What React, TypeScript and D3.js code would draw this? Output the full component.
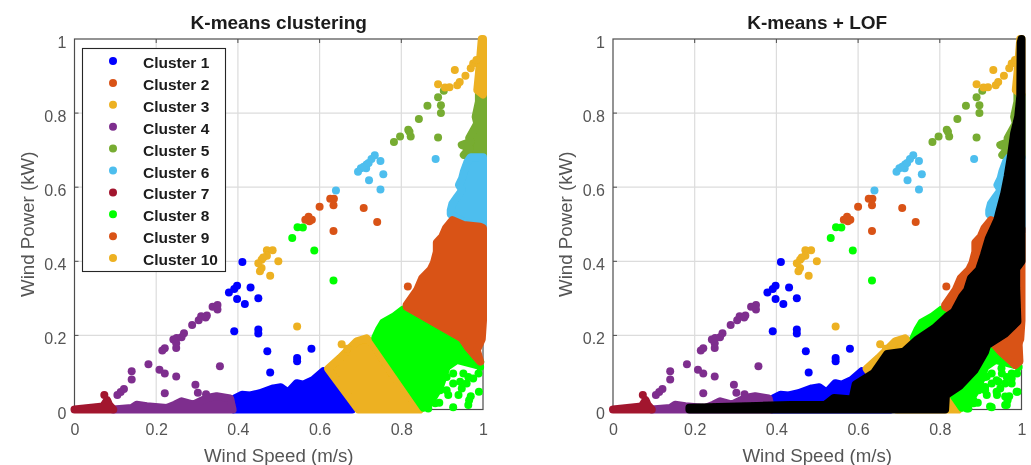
import React from "react";
import * as d3 from "d3";

type Pt = [number, number];

const tickValues = [0, 0.2, 0.4, 0.6, 0.8, 1];
const clusterNames = ["Cluster 1", "Cluster 2", "Cluster 3", "Cluster 4", "Cluster 5", "Cluster 6", "Cluster 7", "Cluster 8", "Cluster 9", "Cluster 10"];
const clusterColors = ["#0000ff", "#d95319", "#edb120", "#7e2f8e", "#77ac30", "#4dbeee", "#a2142f", "#00ff00", "#d95319", "#edb120"];

// isolated points, [speed, power]
const cluster1: Pt[] = [[.411, .398], [.378, .316], [.391, .325], [.398, .334], [.398, .298], [.417, .285], [.431, .329], [.45, .3], [.391, .211], [.45, .216], [.45, .205], [.472, .157], [.545, .139], [.545, .13], [.58, .164], [.479, .1]];
const cluster2: Pt[] = [[.634, .482], [.741, .506], [.708, .544], [.6, .547], [.634, .551], [.635, .569], [.626, .569], [.573, .52], [.565, .512], [.581, .512], [.575, .508], [.816, .332]];
const cluster3: Pt[] = [[.654, .176], [.668, .164], [.545, .224], [.479, .361], [.499, .4], [.458, .404], [.458, .382], [.471, .43], [.485, .43], [.471, .415], [.45, .395], [.454, .373], [.462, .41]];
const cluster4: Pt[] = [[.105, .039], [.113, .047], [.121, .055], [.14, .103], [.14, .081], [.181, .122], [.208, .107], [.221, .097], [.249, .089], [.221, .044], [.296, .067], [.302, .045], [.322, .041], [.356, .117], [.215, .159], [.221, .165], [.242, .189], [.25, .193], [.262, .195], [.268, .206], [.249, .166], [.249, .179], [.288, .228], [.304, .241], [.31, .252], [.324, .254], [.321, .248], [.338, .277], [.35, .282], [.35, .27]];
const cluster5: Pt[] = [[.904, .86], [.89, .843], [.864, .82], [.897, .821], [.897, .8], [.843, .784], [.817, .755], [.823, .737], [.797, .737], [.782, .722], [.89, .734], [.82, .75]];
const cluster6: Pt[] = [[.884, .676], [.749, .671], [.735, .686], [.727, .676], [.715, .661], [.701, .651], [.694, .642], [.714, .651], [.756, .635], [.721, .619], [.749, .594], [.64, .591], [.708, .655], [.72, .665]];
const cluster7: Pt[] = [[.073, .039]];
const cluster8: Pt[] = [[.546, .492], [.559, .491], [.533, .463], [.587, .429], [.634, .348], [.866, .003], [.883, .017], [.893, .018], [.927, .006], [.964, .012], [.966, .025], [.97, .036], [.99, .048], [.94, .039], [.915, .039], [.911, .052], [.948, .057], [.96, .07], [.976, .084], [.927, .07], [.944, .075], [.895, .052], [.989, .097], [.993, .115], [.964, .088], [.927, .097], [.911, .088], [.952, .097], [.903, .106]];
const cluster10: Pt[] = [[.931, .916], [.89, .878], [.907, .869], [.918, .87], [.937, .875], [.943, .884], [.957, .901], [.97, .921], [.976, .934], [.984, .943]];

// extra green dots that only show in the right panel
const lofGreen: Pt[] = [[.931, .133], [.951, .111], [.915, .089], [.939, .079], [.976, .097], [.988, .048], [.96, .035], [.923, .008], [.96, .012], [.87, .003], [.898, .07], [.911, .061], [.939, .048], [.976, .07], [.858, .043], [.882, .025], [.902, .084]];

// outlines of the solid areas: where dots overlap too much to read one by one
const body1: Pt[] = [[.39, 0], [.393, .03], [.41, .04], [.43, .038], [.454, .044], [.487, .057], [.505, .06], [.523, .046], [.544, .071], [.56, .067], [.585, .08], [.609, .103], [.68, 0]];
const body3: Pt[] = [[.621, .11], [.65, .139], [.691, .184], [.715, .192], [.732, .175], [.781, .09], [.846, 0], [.695, 0]];
const body4: Pt[] = [[.095, 0], [.14, .004], [.152, .013], [.177, .009], [.226, .004], [.246, .013], [.262, .022], [.291, .013], [.324, .031], [.348, .036], [.381, .03], [.387, 0]];
const body5: Pt[] = [[.99, .858], [.99, .831], [.982, .79], [.986, .772], [.966, .732], [.97, .723], [.948, .714], [.968, .705], [.953, .687], [1, .68], [1, .85]];
const body6: Pt[] = [[1, .681], [.97, .681], [.962, .669], [.953, .642], [.949, .624], [.941, .606], [.949, .592], [.937, .574], [.925, .555], [.921, .538], [.921, .527], [.96, .5], [1, .48]];
const body7: Pt[] = [[0, 0], [.095, 0], [.085, .012], [.08, .025], [.07, .008]];
const body8: Pt[] = [[.736, .193], [.745, .215], [.756, .235], [.781, .25], [.805, .27], [.948, .192], [.993, .129], [.985, .12], [.936, .134], [.911, .115], [.895, .062], [.87, .017], [.854, .005]];
const body9: Pt[] = [[.925, .511], [.952, .498], [.993, .493], [1, .49], [1, .24], [.997, .19], [.985, .16], [.993, .129], [.962, .169], [.948, .192], [.813, .277], [.813, .282], [.839, .323], [.851, .354], [.872, .378], [.88, .396], [.887, .426], [.887, .451], [.9, .466], [.909, .489]];
const body10: Pt[] = [[1, 1], [.997, 1], [.99, .907], [.986, .862], [1, .85]];
const lofOrange: Pt[] = [[.93, .18], [.99, .24], [.995, .13], [.985, .12], [.95, .155]];
const lofBody: Pt[] = [[1, 1], [.998, .99], [.997, .845], [.992, .791], [.982, .746], [.974, .683], [.966, .629], [.958, .584], [.945, .53], [.941, .512], [.92, .462], [.908, .417], [.896, .377], [.876, .354], [.867, .322], [.855, .305], [.835, .264], [.817, .25], [.786, .219], [.745, .189], [.712, .156], [.671, .15], [.639, .099], [.594, .068], [.586, .027], [.541, .031], [.52, .013], [.434, .012], [.187, .005], [.187, 0], [.813, 0], [.815, .039], [.848, .063], [.885, .106], [.911, .156], [.916, .174], [.96, .205], [.99, .237], [.987, .33], [.987, .38], [1, .4]];

const clusterPoints = [cluster1, cluster2, cluster3, cluster4, cluster5, cluster6, cluster7, cluster8, [] as Pt[], cluster10];
const clusterBodies = [body1, null, body3, body4, body5, body6, body7, body8, body9, body10];

const R = 4;
const plotTop = 39;
const plotBottom = 409.5;
const plotWidth = 408.5;
const ink = "#262626";
const gray = "#4d4d4d";
const font = "'Liberation Sans', Arial, sans-serif";

const Dots = ({pts, color, x, y}: {pts: Pt[], color: string, x: any, y: any}) => (
    <g fill={color}>
        {pts.map((p, i) => <circle key={i} cx={x(p[0])} cy={y(p[1])} r={R} />)}
    </g>
);

const Body = ({pts, color, line}: {pts: Pt[], color: string, line: any}) => (
    <path d={line(pts)} fill={color} stroke={color} strokeWidth={R * 2} strokeLinejoin="round" />
);

const Panel = ({left, title, lof}: {left: number, title: string, lof: boolean}) => {
    const x = d3.scaleLinear().domain([0, 1]).range([left, left + plotWidth]);
    const y = d3.scaleLinear().domain([0, 1]).range([plotBottom, plotTop]);
    const line = d3.line<Pt>().x(d => x(d[0])).y(d => y(d[1])).curve(d3.curveLinearClosed);

    return (
        <g fontFamily={font}>
            <text x={x(0.5)} y={29} textAnchor="middle" fontSize={19} fontWeight="bold" fill="#1a1a1a">{title}</text>

            {/* grid */}
            <g stroke="#dcdcdc" strokeWidth={1.2}>
                {tickValues.slice(1, -1).map(t => <line key={t} x1={x(t)} x2={x(t)} y1={plotTop} y2={plotBottom} />)}
                {tickValues.slice(1, -1).map(t => <line key={t} x1={left} x2={x(1)} y1={y(t)} y2={y(t)} />)}
            </g>

            {/* frame and ticks */}
            <rect x={left} y={plotTop} width={plotWidth} height={plotBottom - plotTop} fill="none" stroke={gray} strokeWidth={1.2} />
            <g stroke={gray} strokeWidth={1}>
                {tickValues.slice(1, -1).map(t => <line key={t} x1={x(t)} x2={x(t)} y1={plotTop} y2={plotTop + 4} />)}
                {tickValues.slice(1, -1).map(t => <line key={t} x1={left} x2={left + 4} y1={y(t)} y2={y(t)} />)}
            </g>

            {/* clusters, in legend order */}
            {clusterNames.map((name, i) => (
                <g key={name}>
                    {clusterBodies[i] && <Body pts={clusterBodies[i] as Pt[]} color={clusterColors[i]} line={line} />}
                    <Dots pts={clusterPoints[i]} color={clusterColors[i]} x={x} y={y} />
                </g>
            ))}
            {lof && <Dots pts={lofGreen} color={clusterColors[7]} x={x} y={y} />}
            {lof && <Body pts={lofOrange} color={clusterColors[8]} line={line} />}
            {lof && <Body pts={lofBody} color="#000000" line={line} />}

            {/* tick labels */}
            <g fontSize={16} fill="#555555">
                {tickValues.map(t => <text key={t} x={x(t) + 0.5} y={435} textAnchor="middle">{d3.format("~g")(t)}</text>)}
                {tickValues.map(t => <text key={t} x={left - 8} y={y(t) + 9} textAnchor="end">{d3.format("~g")(t)}</text>)}
            </g>
            <text x={x(0.5)} y={461.5} textAnchor="middle" fontSize={18.7} fill="#555555">Wind Speed (m/s)</text>
            <text transform={`translate(${left - 41},${(plotTop + plotBottom) / 2}) rotate(-90)`} textAnchor="middle" fontSize={18.7} fill="#555555">Wind Power (kW)</text>
        </g>
    );
};

const Legend = () => (
    <g fontFamily={font}>
        <rect x={82.5} y={48.5} width={143} height={223} fill="#ffffff" stroke={ink} strokeWidth={1.1} />
        {clusterNames.map((name, i) => (
            <g key={name}>
                <circle cx={113} cy={61 + i * 21.9} r={R} fill={clusterColors[i]} />
                <text x={143} y={68 + i * 21.9} fontSize={15.5} fontWeight="bold" fill="#1a1a1a">{name}</text>
            </g>
        ))}
    </g>
);

export default function App() {
    return (
        <svg width={1031} height={465} style={{position: "absolute", left: 0, top: 0, background: "#ffffff"}}>
            <defs>
                <filter id="soft" x="0" y="0" width="100%" height="100%">
                    <feGaussianBlur stdDeviation="0.45" />
                </filter>
            </defs>
            <g filter="url(#soft)">
                <Panel left={74.5} title="K-means clustering" lof={false} />
                <Legend />
                <Panel left={613} title="K-means + LOF" lof={true} />
            </g>
        </svg>
    );
}
